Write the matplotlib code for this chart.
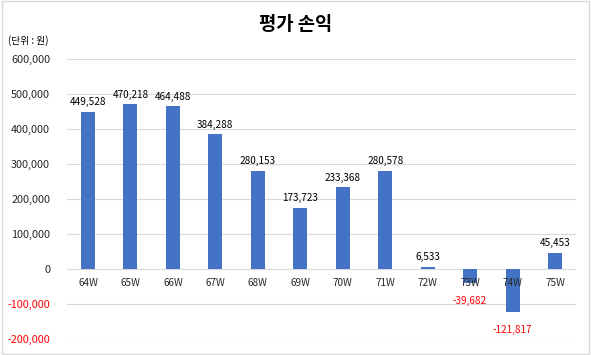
import matplotlib.pyplot as plt
from matplotlib.patches import Rectangle

plt.rcParams['font.family'] = ['Noto Sans CJK KR', 'DejaVu Sans']

weeks = ['64W', '65W', '66W', '67W', '68W', '69W', '70W', '71W', '72W', '73W', '74W', '75W']
pnl = [449528, 470218, 464488, 384288, 280153, 173723, 233368, 280578, 6533, -39682, -121817, 45453]
yticks = [-200000, -100000, 0, 100000, 200000, 300000, 400000, 500000, 600000]

fig = plt.figure(figsize=(5.91, 3.55), dpi=100)
ax = fig.add_axes([0.113, 0.045, 0.862, 0.789])

x = range(len(weeks))
ax.bar(x, pnl, width=0.33, color='#4472C4', zorder=3)

ax.set_xlim(-0.5, len(weeks) - 0.5)
ax.set_ylim(-200000, 600000)
ax.set_yticks(yticks)
ax.set_yticklabels([f'{v:,}' for v in yticks], fontsize=7.8)
for lbl, v in zip(ax.get_yticklabels(), yticks):
    lbl.set_color('#FF0000' if v < 0 else '#262626')
ax.tick_params(axis='y', length=0, pad=12)
ax.set_xticks([])
ax.grid(axis='y', color='#D9D9D9', linewidth=0.8, zorder=0)
for s in ax.spines.values():
    s.set_visible(False)

# category labels sit just under the zero line
for i, w in enumerate(weeks):
    ax.annotate(w, (i, 0), xytext=(0, -10), textcoords='offset points',
                ha='center', va='center', fontsize=7.2, color='#262626', zorder=4)

# data labels
for i, v in enumerate(pnl):
    if v >= 0:
        ax.annotate(f'{v:,}', (i, v), xytext=(0, 7), textcoords='offset points',
                    ha='center', va='center', fontsize=7.2, color='#000000')
    else:
        ax.annotate(f'{v:,}', (i, v), xytext=(0, -13), textcoords='offset points',
                    ha='center', va='center', fontsize=7.2, color='#FF0000')

fig.text(0.5, 0.93, '평가 손익', ha='center', va='center', fontsize=13.5, fontweight='bold')
fig.text(0.014, 0.885, '(단위 : 원)', ha='left', va='center', fontsize=7)

fig.patches.append(Rectangle((0.003, 0.004), 0.994, 0.992, transform=fig.transFigure,
                             fill=False, edgecolor='#D9D9D9', linewidth=1))

fig.savefig('out.png', dpi=100)
